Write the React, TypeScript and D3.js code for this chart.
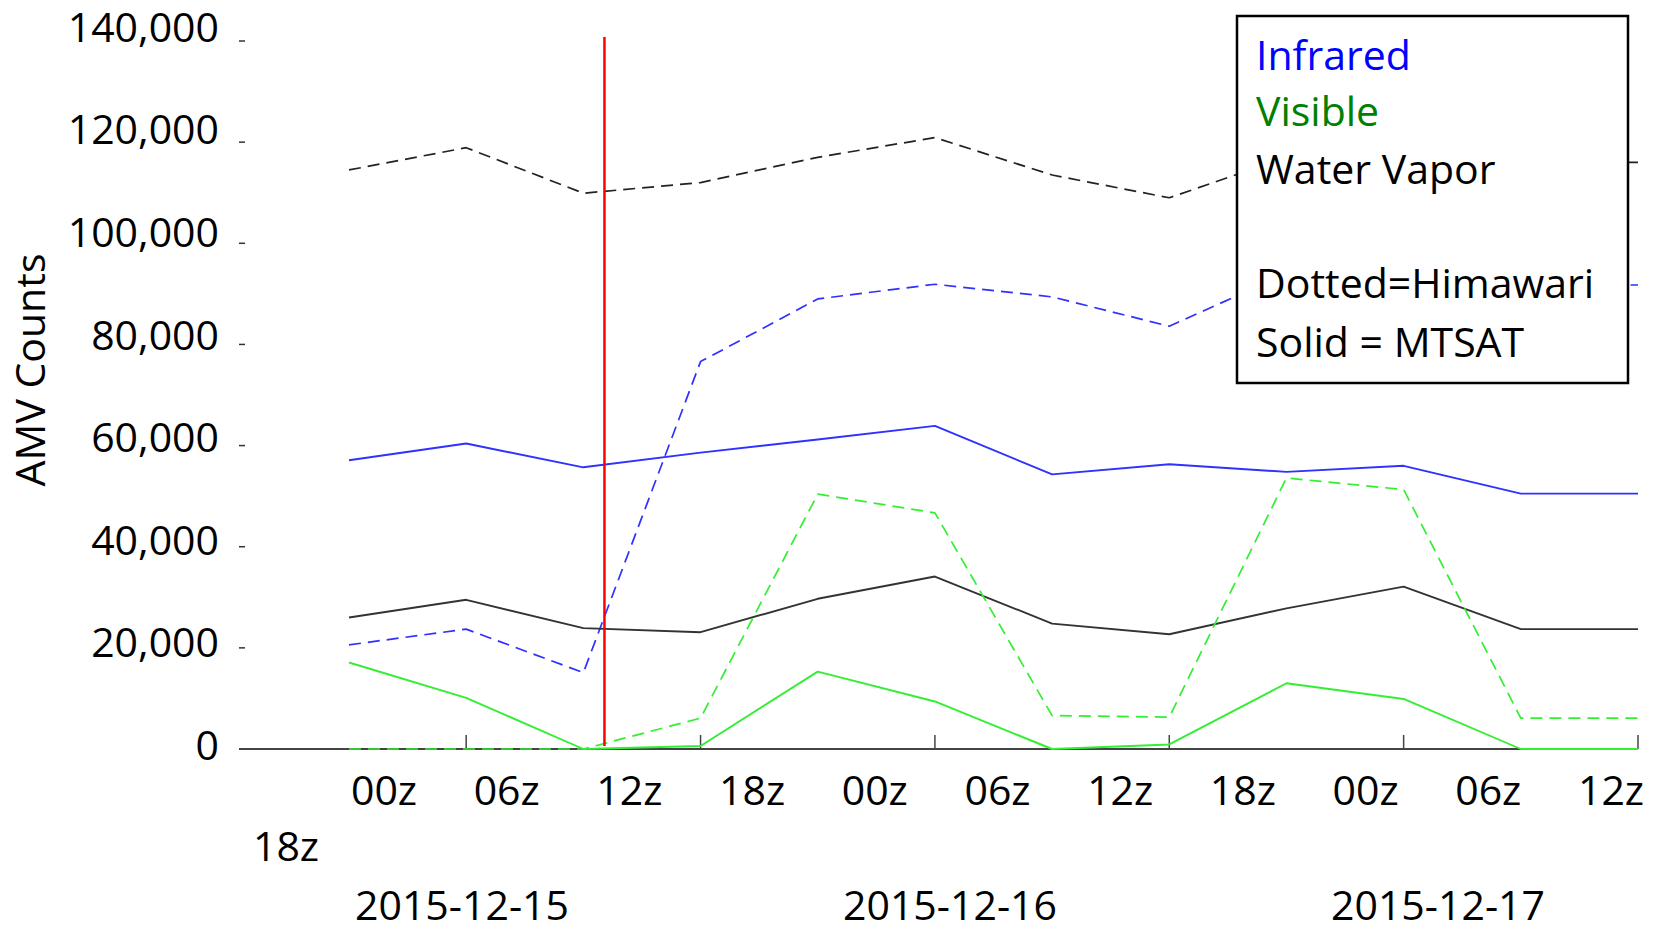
import React from "react";
import * as d3 from "d3";

// ---- data ----
const timeLabels = ["18z", "00z", "06z", "12z", "18z", "00z", "06z", "12z", "18z", "00z", "06z", "12z"];
const dayLabels = ["2015-12-15", "2015-12-16", "2015-12-17"];
const yTicks = [0, 20000, 40000, 60000, 80000, 100000, 120000, 140000];

const irHimawari = [20600, 23700, 15100, 76600, 89000, 91900, 89400, 83600, 94000, 95000, 91750, 91750];
const irMtsat = [57100, 60400, 55700, 58600, 61200, 63900, 54300, 56300, 54800, 56000, 50500, 50500];
const visHimawari = [0, 0, 0, 6100, 50400, 46700, 6600, 6300, 53600, 51300, 6100, 6100];
const visMtsat = [17100, 10100, 0, 600, 15300, 9400, 0, 900, 13000, 9900, 0, 0];
const wvHimawari = [114500, 118900, 109900, 112000, 117000, 120900, 113500, 109000, 117000, 120500, 116000, 116000];
const wvMtsat = [26000, 29500, 23900, 23100, 29700, 34100, 24800, 22700, 27800, 32100, 23700, 23700];

const eventIndex = 2.18;
const xTickIndices = [1, 3, 5, 7, 9, 11];
const legendItems = [
  { text: "Infrared", color: "#0000ff" },
  { text: "Visible", color: "#008000" },
  { text: "Water Vapor", color: "#000000" },
  { text: "", color: "#000000" },
  { text: "Dotted=Himawari", color: "#000000" },
  { text: "Solid = MTSAT", color: "#000000" },
];

const series = [
  { values: wvHimawari, color: "#222222", dashed: true },
  { values: irHimawari, color: "#3030ff", dashed: true },
  { values: irMtsat, color: "#3030ff", dashed: false },
  { values: wvMtsat, color: "#333333", dashed: false },
  { values: visHimawari, color: "#33ee33", dashed: true },
  { values: visMtsat, color: "#33ee33", dashed: false },
];

const W = 1659;
const H = 928;
const FONT = "'Open Sans', sans-serif";
const FS = 41;

export default function App() {
  const x = d3.scaleLinear().domain([0, 11]).range([349, 1638]);
  const y = d3.scaleLinear().domain([0, 140000]).range([749, 41]);
  const yLabel = d3.scaleLinear().domain([0, 140000]).range([760, 41.7]);
  const xLabel = d3.scaleLinear().domain([1, 11]).range([384, 1611]);
  const dayX = d3.scaleLinear().domain([0, 1]).range([462, 950]);

  const line = d3
    .line<number>()
    .x((_, i) => x(i))
    .y((d) => y(d));

  return (
    <div style={{ position: "absolute", left: 0, top: 0 }}>
      <svg width={W} height={H} style={{ display: "block", background: "#fff" }} fontFamily={FONT}>
        <rect x={0} y={0} width={W} height={H} fill="#fff" />
        {/* y axis labels and small ticks */}
        {yTicks.map((t) => (
          <g key={t}>
            <line x1={239} x2={245} y1={y(t)} y2={y(t)} stroke="#333" strokeWidth={1.5} />
            <text x={219} y={yLabel(t)} textAnchor="end" fontSize={FS} fill="#000">
              {d3.format(",")(t)}
            </text>
          </g>
        ))}
        <text
          transform={`translate(45,370) rotate(-90)`}
          textAnchor="middle"
          fontSize={FS}
          fill="#000"
        >
          AMV Counts
        </text>

        {/* x axis */}
        <line x1={239} x2={x(11)} y1={y(0)} y2={y(0)} stroke="#444" strokeWidth={2} />
        {xTickIndices.map((i) => (
          <line key={i} x1={x(i)} x2={x(i)} y1={y(0)} y2={y(0) - 14} stroke="#444" strokeWidth={1.5} />
        ))}
        {timeLabels.map((l, i) =>
          i === 0 ? (
            <text key={i} x={286} y={861} textAnchor="middle" fontSize={FS} fill="#000">
              {l}
            </text>
          ) : (
            <text key={i} x={xLabel(i)} y={805} textAnchor="middle" fontSize={FS} fill="#000">
              {l}
            </text>
          )
        )}
        {dayLabels.map((l, k) => (
          <text key={l} x={dayX(k)} y={920} textAnchor="middle" fontSize={FS} fill="#000">
            {l}
          </text>
        ))}

        {/* series */}
        {series.map((s, k) => (
          <path
            key={k}
            d={line(s.values) || ""}
            fill="none"
            stroke={s.color}
            strokeWidth={s.dashed ? 1.7 : 1.9}
            strokeDasharray={s.dashed ? "12,7" : undefined}
            strokeLinejoin="round"
          />
        ))}

        {/* event marker */}
        <line x1={x(eventIndex)} x2={x(eventIndex)} y1={37} y2={746} stroke="#ff0000" strokeWidth={2.5} />

        {/* legend */}
        <rect x={1237} y={16} width={391} height={367} fill="#fff" stroke="#000" strokeWidth={2.5} />
        {legendItems.map((it, i) => (
          <text key={i} x={1256} y={[70, 126, 184, 241, 298, 357][i]} fontSize={FS} fill={it.color}>
            {it.text}
          </text>
        ))}
      </svg>
    </div>
  );
}
